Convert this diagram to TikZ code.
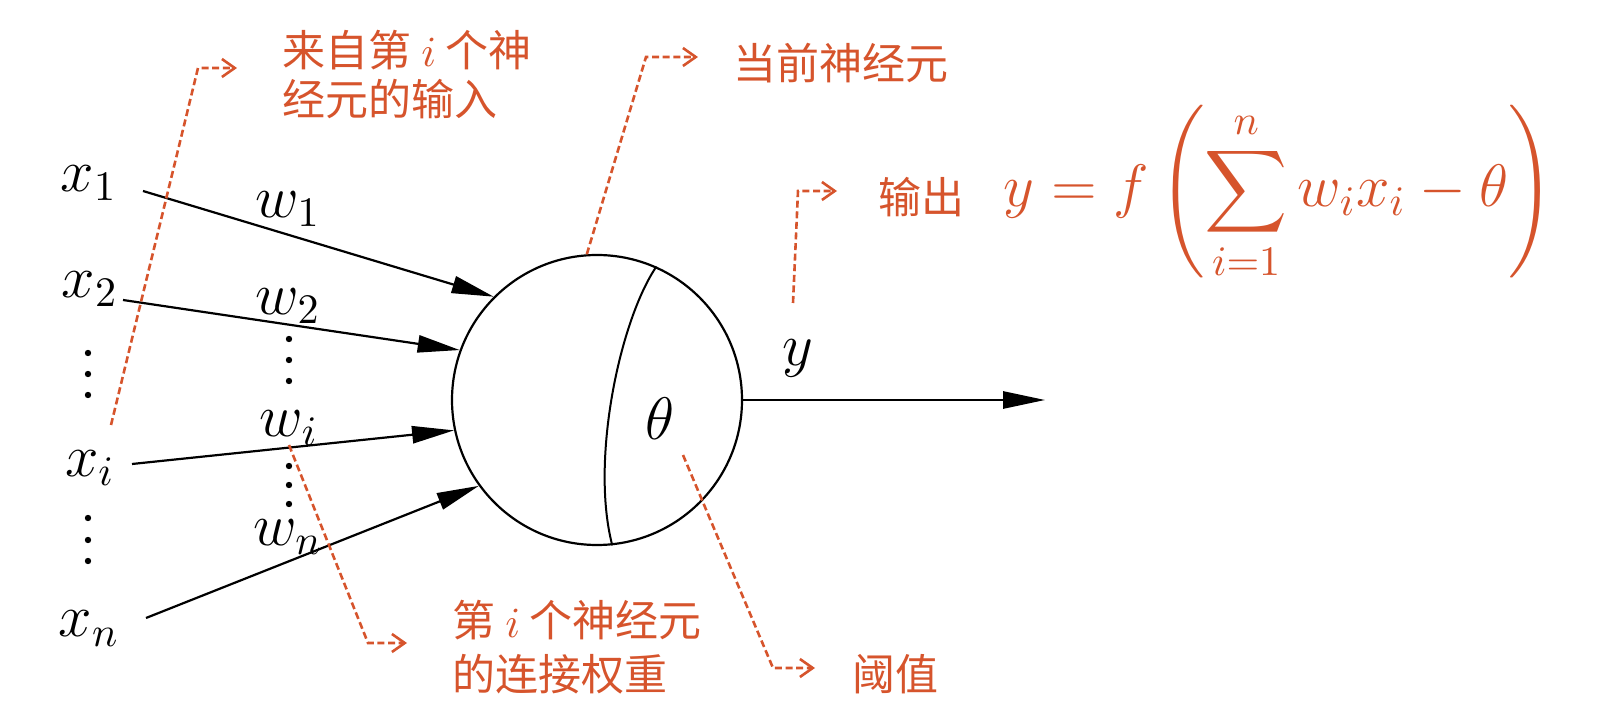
\RequirePackage{fix-cm}
\documentclass[tikz,border=0pt]{standalone}
\usepackage{exscale}
\usepackage{fontspec}
\newfontfamily\cjk{Noto Sans CJK SC}
\usetikzlibrary{arrows.meta}
\definecolor{org}{RGB}{214,84,44}
\begin{document}
\begin{tikzpicture}[x=0.25pt,y=-0.25pt,
  lbl/.style={inner sep=0pt,anchor=base,font=\fontsize{15}{18}\selectfont},
  ann/.style={inner sep=0pt,anchor=base west,text=org,align=left},
  annfont/.style={font=\cjk\fontsize{10.75}{#1}\selectfont},
  lead/.style={draw=org,line width=0.65pt,dash pattern=on 1.75pt off 0.9pt,
    -{Straight Barb[length=3.2pt,width=4.5pt,line width=0.65pt]}},
  inarrow/.style={line width=0.55pt,-{Triangle[length=10.5pt,width=4.3pt]}},
  dotf/.style={fill=black}
]
\useasboundingbox (0,0) rectangle (1606,726);

% neuron
\node[circle,draw,line width=0.55pt,minimum size=72.5pt,inner sep=0pt] (n) at (597,400) {};
\draw[line width=0.5pt] (n.66) .. controls (620,320) and (590,460) .. (n.-84.4);
\node[lbl] (theta) at (660,440) {$\theta$};

% inputs
\node[lbl] (x1) at (89,192) {$x_1$};
\node[lbl] (x2) at (90,298) {$x_2$};
\node[lbl] (xi) at (90,477) {$x_i$};
\node[lbl] (xn) at (89,637) {$x_n$};
\foreach \yy in {353,374,395,518,540,561} \fill[dotf] (88,\yy) circle (0.8pt);

\coordinate (s1) at (143,191);
\coordinate (s2) at (123,300);
\coordinate (si) at (132,464);
\coordinate (sn) at (146,618);
\draw[inarrow] (s1) -- (n.135.8);
\draw[inarrow] (s2) -- (n.160.3);
\draw[inarrow] (si) -- (n.192.4);
\draw[inarrow] (sn) -- (n.216.7);

% weights
\node[lbl] (w1) at (288,218) {$w_1$};
\node[lbl] (w2) at (288,315) {$w_2$};
\node[lbl] (wi) at (289,437) {$w_i$};
\node[lbl] (wn) at (288,545) {$w_n$};
\foreach \yy in {339,360,381,466,485,504} \fill[dotf] (289,\yy) circle (0.8pt);

% output
\coordinate (out) at (1045,400);
\draw[inarrow] (n.east) -- (out);
\node[lbl] (ylab) at (798,366) {$y$};

% annotations
\node[ann,annfont=12.25pt] (t1) at (282,116) {来自第 $i$ 个神\\经元的输入};
\node[ann,annfont=13pt] (t2) at (733,80) {当前神经元};
\node[ann,annfont=13pt] (t3) at (878,214) {输出};
\node[ann,font=\fontsize{15}{18}\selectfont] (f) at (1003,207)
  {$\displaystyle y=f\left(\sum_{i=1}^{n} w_ix_i-\theta\right)$};
\node[ann,annfont=13.25pt] (t4) at (452,690) {第 $i$ 个神经元\\的连接权重};
\node[ann,annfont=13pt] (t5) at (852,690) {阈值};

% leaders
\coordinate (l1a) at (111,425); \coordinate (l1b) at (198,68); \coordinate (l1c) at (237,68);
\coordinate (l3a) at (793,303); \coordinate (l3b) at (798,191); \coordinate (l3c) at (837,191);
\coordinate (l4a) at (289,445); \coordinate (l4b) at (368,643); \coordinate (l4c) at (407,643);
\coordinate (l5a) at (683,455); \coordinate (l5b) at (773,668); \coordinate (l5c) at (815,668);
\coordinate (l2b) at (646,57); \coordinate (l2c) at (698,57);
\draw[lead] (l1a) -- (l1b) -- (l1c);
\draw[lead] (n.94.7) -- (l2b) -- (l2c);
\draw[lead] (l3a) -- (l3b) -- (l3c);
\draw[lead] (l4a) -- (l4b) -- (l4c);
\draw[lead] (l5a) -- (l5b) -- (l5c);
\end{tikzpicture}
\end{document}
